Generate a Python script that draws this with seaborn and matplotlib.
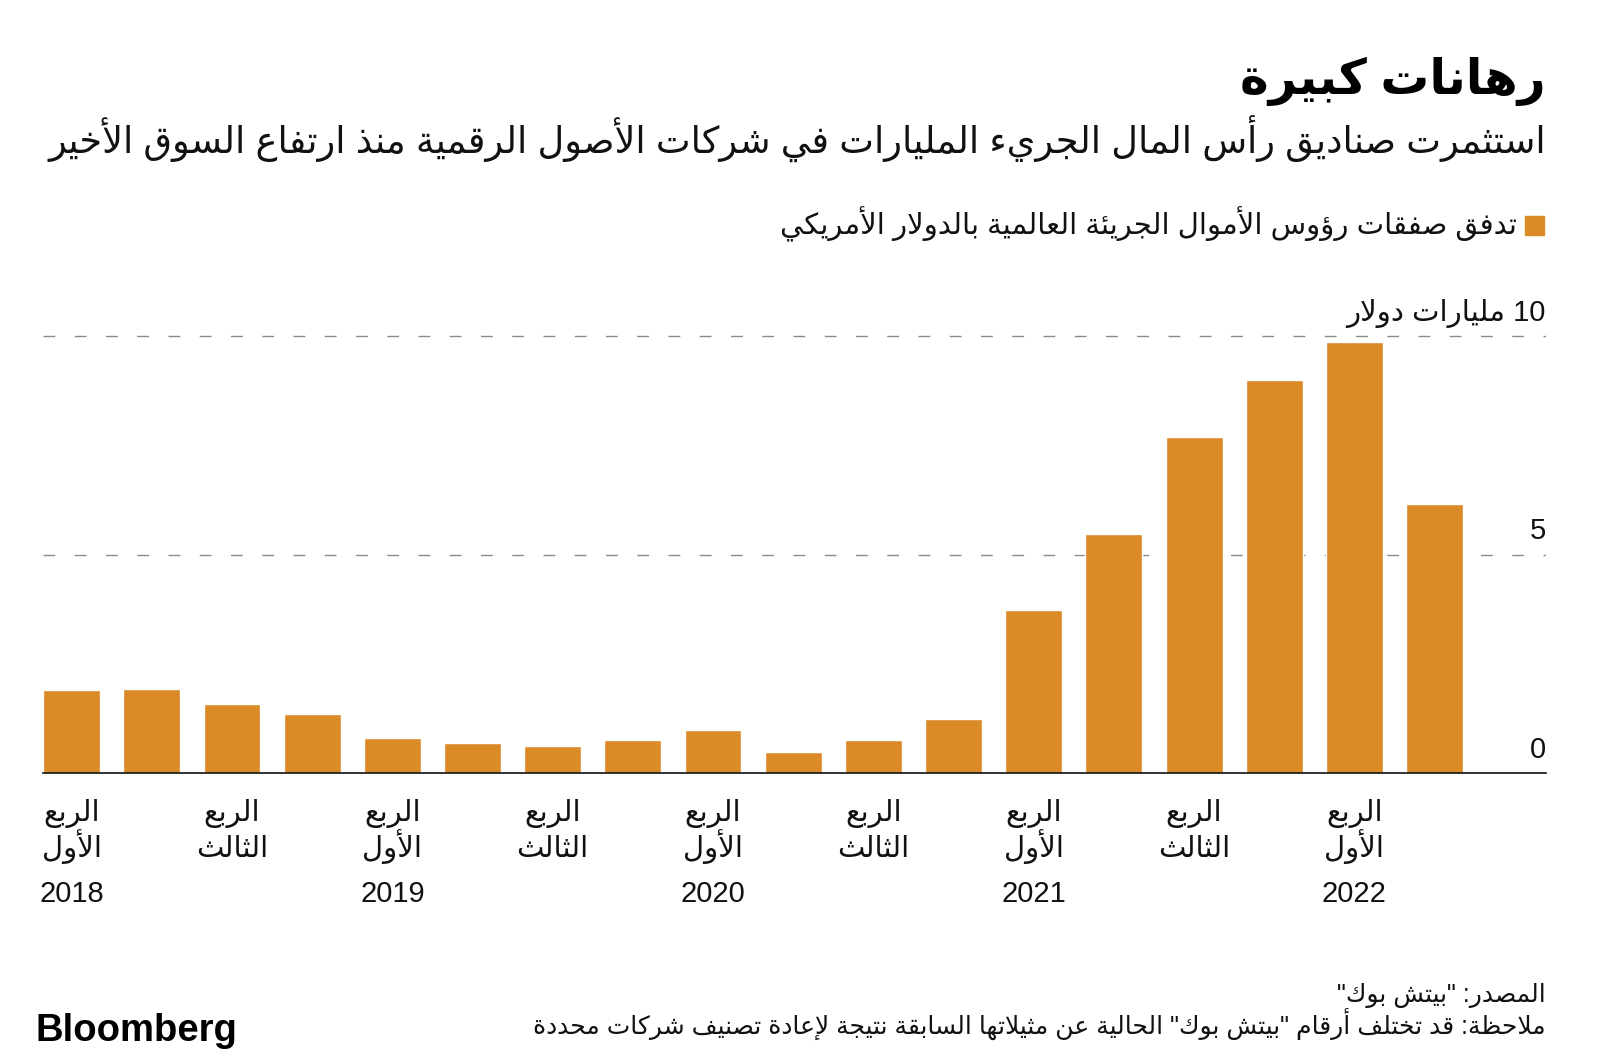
import re
import pandas as pd
import matplotlib
matplotlib.use('Agg')
import matplotlib.pyplot as plt
from matplotlib.patches import Rectangle
import seaborn as sns

# data
quarters = ['Q1 2018', 'Q2 2018', 'Q3 2018', 'Q4 2018',
            'Q1 2019', 'Q2 2019', 'Q3 2019', 'Q4 2019',
            'Q1 2020', 'Q2 2020', 'Q3 2020', 'Q4 2020',
            'Q1 2021', 'Q2 2021', 'Q3 2021', 'Q4 2021',
            'Q1 2022', 'Q2 2022']
deal_value = [1.89, 1.93, 1.59, 1.35,
              0.79, 0.68, 0.61, 0.75,
              0.98, 0.49, 0.75, 1.24,
              3.73, 5.48, 7.69, 9.00,
              9.86, 6.15]
tick_top = ['الربع'] * 9
tick_mid = ['الأول', 'الثالث'] * 4 + ['الأول']
tick_year = ['2018', '', '2019', '', '2020', '', '2021', '', '2022']
y_ticks = [0, 5, 10]
y_labels = ['0', '5', '10 مليارات دولار']

title = 'رهانات كبيرة'
subtitle = 'استثمرت صناديق رأس المال الجريء المليارات في شركات الأصول الرقمية منذ ارتفاع السوق الأخير'
legend_text = 'تدفق صفقات رؤوس الأموال الجريئة العالمية بالدولار الأمريكي'
source = 'المصدر: "بيتش بوك"'
note = 'ملاحظة: قد تختلف أرقام "بيتش بوك" الحالية عن مثيلاتها السابقة نتيجة لإعادة تصنيف شركات محددة'

BAR = '#DA8A27'

# matplotlib has no arabic shaping, so map letters to presentation forms
FORMS = {
    'ء': (0xFE80, 1), 'آ': (0xFE81, 2), 'أ': (0xFE83, 2), 'ؤ': (0xFE85, 2),
    'إ': (0xFE87, 2), 'ئ': (0xFE89, 4), 'ا': (0xFE8D, 2), 'ب': (0xFE8F, 4),
    'ة': (0xFE93, 2), 'ت': (0xFE95, 4), 'ث': (0xFE99, 4), 'ج': (0xFE9D, 4),
    'ح': (0xFEA1, 4), 'خ': (0xFEA5, 4), 'د': (0xFEA9, 2), 'ذ': (0xFEAB, 2),
    'ر': (0xFEAD, 2), 'ز': (0xFEAF, 2), 'س': (0xFEB1, 4), 'ش': (0xFEB5, 4),
    'ص': (0xFEB9, 4), 'ض': (0xFEBD, 4), 'ط': (0xFEC1, 4), 'ظ': (0xFEC5, 4),
    'ع': (0xFEC9, 4), 'غ': (0xFECD, 4), 'ف': (0xFED1, 4), 'ق': (0xFED5, 4),
    'ك': (0xFED9, 4), 'ل': (0xFEDD, 4), 'م': (0xFEE1, 4), 'ن': (0xFEE5, 4),
    'ه': (0xFEE9, 4), 'و': (0xFEED, 2), 'ى': (0xFEEF, 2), 'ي': (0xFEF1, 4),
}
LAM_ALEF = {'آ': 0xFEF5, 'أ': 0xFEF7, 'إ': 0xFEF9, 'ا': 0xFEFB}


def shape_line(s):
    items = []
    i = 0
    while i < len(s):
        if s[i] == 'ل' and i + 1 < len(s) and s[i + 1] in LAM_ALEF:
            items.append(('LA', s[i + 1]))
            i += 2
        else:
            items.append(s[i])
            i += 1

    def can_prev(e):
        return isinstance(e, tuple) or (e in FORMS and FORMS[e][1] >= 2)

    def can_next(e):
        return (not isinstance(e, tuple)) and e in FORMS and FORMS[e][1] == 4

    out = []
    for k, e in enumerate(items):
        p = k > 0 and can_prev(e) and can_next(items[k - 1])
        n = k < len(items) - 1 and can_next(e) and can_prev(items[k + 1])
        if isinstance(e, tuple):
            out.append(chr(LAM_ALEF[e[1]] + (1 if p else 0)))
        elif e in FORMS:
            base, cnt = FORMS[e]
            if cnt == 1:
                out.append(chr(base))
            elif cnt == 2:
                out.append(chr(base + (1 if p else 0)))
            else:
                idx = 3 if (p and n) else 2 if n else 1 if p else 0
                out.append(chr(base + idx))
        else:
            out.append(e)
    vis = ''.join(out)[::-1]
    return re.sub(r'[0-9A-Za-z.,%]+', lambda m: m.group(0)[::-1], vis)


def ar(s):
    return '\n'.join(shape_line(line) for line in s.split('\n'))


df = pd.DataFrame({'quarter': quarters, 'value': deal_value})

sns.set_style('white')
plt.rcParams['font.family'] = ['Liberation Sans', 'DejaVu Sans']

W, H = 1600, 1064
fig = plt.figure(figsize=(W / 100, H / 100), dpi=100)

# axes placement (pixels)
ax_left, ax_right, y0_px, y10_px = 43, 1546, 773, 336
ymax = 10.2
top_px = y0_px - ymax * (y0_px - y10_px) / 10
ax = fig.add_axes([ax_left / W, 1 - y0_px / H, (ax_right - ax_left) / W, (y0_px - top_px) / H])

sns.barplot(data=df, x='quarter', y='value', color=BAR, saturation=1,
            width=0.71, ax=ax, zorder=3)

ax.set_xlim(-0.357, 18.39)
ax.set_ylim(0, ymax)
ax.set_xlabel('')
ax.set_ylabel('')
for side in ['top', 'left', 'right']:
    ax.spines[side].set_visible(False)
ax.spines['bottom'].set_color('#111111')
ax.spines['bottom'].set_linewidth(1.2)
ax.spines['bottom'].set_zorder(4)

# gridlines
for v in y_ticks[1:]:
    ax.axhline(v, color='#8a8a8a', linewidth=1, dashes=(8.5, 14), zorder=1)

ax.set_yticks([])
ax.set_xticks(list(range(0, 18, 2)))
ax.set_xticklabels([])
ax.tick_params(axis='x', length=11, width=1, color='#333333', direction='out')

# y labels
for v, lab in zip(y_ticks, y_labels):
    ax.annotate(ar(lab), xy=(1, v), xycoords=ax.get_yaxis_transform(),
                xytext=(0, 11), textcoords='offset points',
                ha='right', va='baseline', fontsize=21, color='#111111')

# x labels
xt = ax.get_xaxis_transform()
for i, (t1, t2, t3) in enumerate(zip(tick_top, tick_mid, tick_year)):
    x = i * 2
    ax.annotate(ar(t1), xy=(x, 0), xycoords=xt, xytext=(0, -34.6),
                textcoords='offset points', ha='center', va='baseline',
                fontsize=21, color='#111111')
    ax.annotate(ar(t2), xy=(x, 0), xycoords=xt, xytext=(0, -60.5),
                textcoords='offset points', ha='center', va='baseline',
                fontsize=21, color='#111111')
    if t3:
        ax.annotate(t3, xy=(x, 0), xycoords=xt, xytext=(0, -92.9),
                    textcoords='offset points', ha='center', va='baseline',
                    fontsize=21, color='#111111')

# headings
fig.text(1546 / W, 1 - 94 / H, ar(title), ha='right', va='baseline',
         fontsize=35, fontweight='bold', color='#000000')
fig.text(1546 / W, 1 - 153 / H, ar(subtitle), ha='right', va='baseline',
         fontsize=26.5, color='#111111')

# legend
fig.patches.append(Rectangle((1525 / W, 1 - 235 / H), 19 / W, 19 / H,
                             transform=fig.transFigure, color=BAR))
fig.text(1517 / W, 1 - 234 / H, ar(legend_text), ha='right', va='baseline',
         fontsize=21, color='#111111')

# footer
fig.text(1546 / W, 1 - 1002 / H, ar(source), ha='right', va='baseline',
         fontsize=18, color='#111111')
fig.text(1546 / W, 1 - 1034 / H, ar(note), ha='right', va='baseline',
         fontsize=18, color='#111111')
fig.text(36 / W, 1 - 1041 / H, 'Bloomberg', ha='left', va='baseline',
         fontsize=27.5, fontweight='bold', color='#000000')

fig.savefig('out.png', dpi=100)
